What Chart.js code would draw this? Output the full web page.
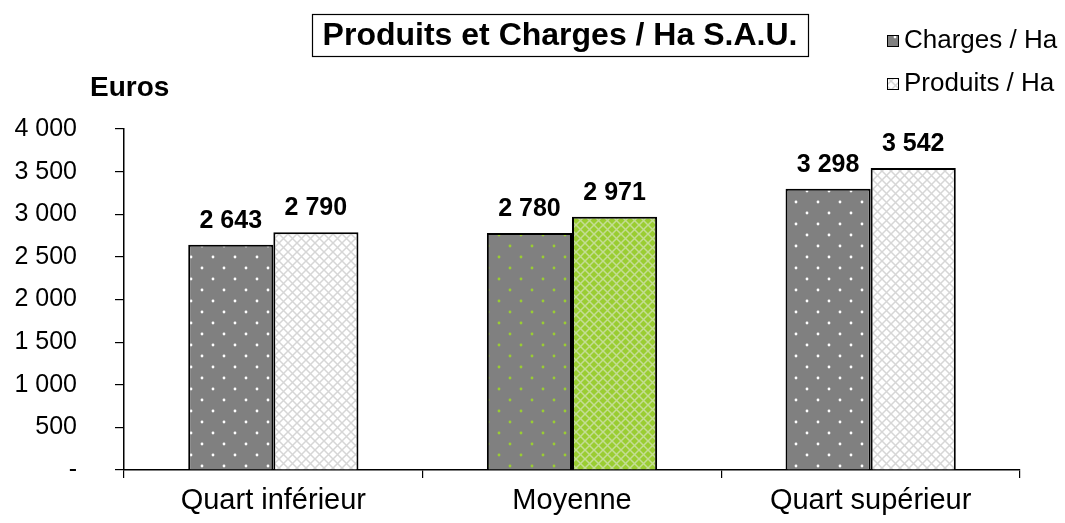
<!DOCTYPE html>
<html>
<head>
<meta charset="utf-8">
<script src="https://cdn.jsdelivr.net/npm/chart.js@4"></script>
<style>
  html, body { margin: 0; padding: 0; background: #fff; }
  #wrap { width: 1065px; height: 523px; position: relative; }
</style>
</head>
<body>
<div id="wrap"><canvas id="c" width="1065" height="523"></canvas></div>
<script>
const categories = ['Quart inférieur', 'Moyenne', 'Quart supérieur'];
const charges = [2643, 2780, 3298];
const produits = [2790, 2971, 3542];
const seriesNames = ['Charges / Ha', 'Produits / Ha'];
const titleText = 'Produits et Charges / Ha S.A.U.';
const yTitle = 'Euros';

const FONT = '"Liberation Sans", Arial, sans-serif';
const ctx0 = document.getElementById('c').getContext('2d');

// motifs : points sur gris, treillis clair
function dotPattern(bg, dot) {
  const t = document.createElement('canvas');
  t.width = 22; t.height = 22;
  const g = t.getContext('2d');
  g.fillStyle = bg; g.fillRect(0, 0, 22, 22);
  g.fillStyle = dot;
  [[4, 4], [15, 15]].forEach(p => {
    g.beginPath(); g.arc(p[0], p[1], 1.4, 0, Math.PI * 2); g.fill();
  });
  return ctx0.createPattern(t, 'repeat');
}
function hatchPattern(bg, line) {
  const t = document.createElement('canvas');
  t.width = 9; t.height = 9;
  const g = t.getContext('2d');
  g.fillStyle = bg; g.fillRect(0, 0, 9, 9);
  g.strokeStyle = line; g.lineWidth = 1.5;
  g.beginPath();
  g.moveTo(0, 0); g.lineTo(9, 9);
  g.moveTo(9, 0); g.lineTo(0, 9);
  g.stroke();
  return ctx0.createPattern(t, 'repeat');
}

const grayDots = dotPattern('#808080', '#ffffff');
const greenDots = dotPattern('#808080', '#9acd32');
const lightHatch = hatchPattern('#ffffff', '#d6d6d6');
const greenHatch = hatchPattern('#9acd32', '#c4dd94');

function fmt(v) {
  if (v === 0) return '-';
  return String(v).replace(/\B(?=(\d{3})+(?!\d))/g, ' ');
}

// titre encadré, légende, "Euros" et étiquettes de valeurs
const decorations = {
  id: 'decorations',
  afterDatasetsDraw(chart) {
    const c = chart.ctx;
    c.save();
    c.fillStyle = '#000';
    c.font = 'bold 25px ' + FONT;
    c.textAlign = 'center';
    c.textBaseline = 'alphabetic';
    chart.data.datasets.forEach((ds, i) => {
      chart.getDatasetMeta(i).data.forEach((bar, j) => {
        c.fillText(fmt(ds.data[j]), bar.x, bar.y - 17);
      });
    });
    c.restore();
  },
  afterDraw(chart) {
    const c = chart.ctx;
    c.save();
    // titre
    c.font = 'bold 32px ' + FONT;
    c.textAlign = 'center';
    c.textBaseline = 'middle';
    c.fillStyle = '#000';
    c.fillText(titleText, 560, 36);
    c.strokeStyle = '#000';
    c.lineWidth = 1.2;
    c.strokeRect(312.5, 14.5, 496, 42);
    // Euros
    c.font = 'bold 28px ' + FONT;
    c.textAlign = 'left';
    c.fillText(yTitle, 90, 88);
    // légende
    const boxes = [grayDots, lightHatch];
    c.font = '26px ' + FONT;
    seriesNames.forEach((name, i) => {
      const y = 41 + i * 43;
      c.fillStyle = boxes[i];
      c.fillRect(887, y - 6, 12, 12);
      c.strokeStyle = '#000';
      c.lineWidth = 1;
      c.strokeRect(887.5, y - 5.5, 11, 11);
      c.fillStyle = '#000';
      c.fillText(name, 904, y);
    });
    c.restore();
  }
};

new Chart(ctx0, {
  type: 'bar',
  data: {
    labels: categories,
    datasets: [
      {
        label: seriesNames[0],
        data: charges,
        backgroundColor: [grayDots, greenDots, grayDots],
        borderColor: '#000',
        borderWidth: 2,
        categoryPercentage: 0.57,
        barPercentage: 1
      },
      {
        label: seriesNames[1],
        data: produits,
        backgroundColor: [lightHatch, greenHatch, lightHatch],
        borderColor: '#000',
        borderWidth: 2,
        categoryPercentage: 0.57,
        barPercentage: 1
      }
    ]
  },
  options: {
    responsive: false,
    animation: false,
    layout: { padding: { top: 129, right: 45, bottom: -3, left: 0 } },
    plugins: {
      legend: { display: false },
      title: { display: false },
      tooltip: { enabled: false }
    },
    scales: {
      x: {
        grid: { display: true, drawOnChartArea: false, tickLength: 8, color: '#000', lineWidth: 1.2 },
        border: { color: '#000', width: 1.5 },
        ticks: { color: '#000', font: { family: FONT, size: 29 }, padding: 6, maxRotation: 0 },
        afterFit(scale) { scale.height = 48; }
      },
      y: {
        min: 0,
        max: 4000,
        grid: { display: true, drawOnChartArea: false, tickLength: 9, color: '#000', lineWidth: 1.2 },
        border: { color: '#000', width: 1.5 },
        ticks: {
          stepSize: 500,
          color: '#000',
          font: { family: FONT, size: 25 },
          padding: 38,
          callback: v => fmt(v)
        },
        afterFit(scale) { scale.width = 124; }
      }
    }
  },
  plugins: [decorations]
});
</script>
</body>
</html>
